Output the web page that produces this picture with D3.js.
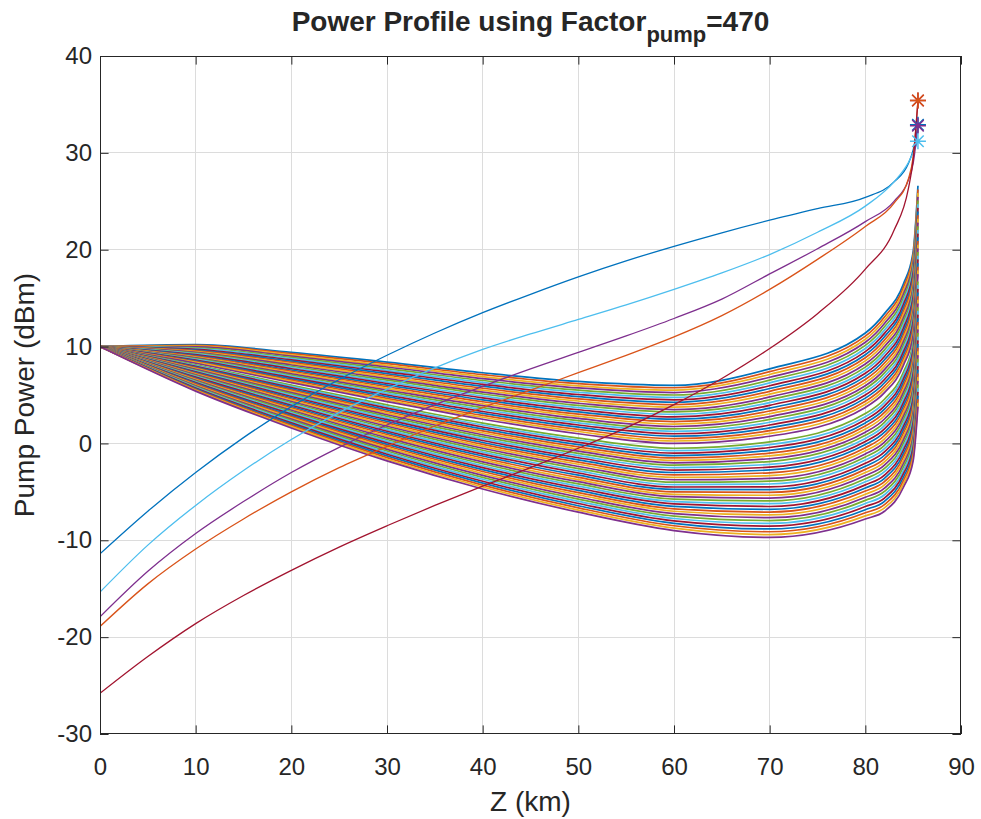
<!DOCTYPE html>
<html>
<head>
<meta charset="utf-8">
<script src="https://cdn.jsdelivr.net/npm/d3@7"></script>
<style>
  html, body { margin: 0; padding: 0; background: #ffffff; }
  svg { display: block; }
  text { font-family: "Liberation Sans", Arial, Helvetica, sans-serif; fill: #262626; }
</style>
</head>
<body>
<svg id="chart" width="981" height="819"></svg>
<script>
// ---- Axis ticks ----
const xTicks = [0, 10, 20, 30, 40, 50, 60, 70, 80, 90];
const yTicks = [-30, -20, -10, 0, 10, 20, 30, 40];

// ---- Channel bundle: every channel is launched at 10 dBm at z = 0 ----
const launchDbm = 10;
// distances (km) where the channel powers are tabulated (after z = 0)
const channelZ = [10, 20, 30, 40, 50, 60, 70, 80, 82, 84, 85, 85.5];
// channel powers (dBm) at each tabulated distance, one entry per channel
const pAt10 = [10.2, 10.12, 10.04, 9.96, 9.88, 9.8, 9.72, 9.64, 9.56, 9.48, 9.4, 9.32, 9.24, 9.16, 9.08, 9.0, 8.92, 8.84, 8.76, 8.68, 8.6, 8.52, 8.44, 8.36, 8.28, 8.12, 8.04, 7.96, 7.88, 7.8, 7.72, 7.64, 7.56, 7.48, 7.4, 7.32, 7.24, 7.16, 7.08, 7.0, 6.92, 6.84, 6.76, 6.68, 6.6, 6.52, 6.44, 6.36, 6.28, 6.2, 6.12, 6.04, 5.96, 5.88, 5.8, 5.72, 5.64, 5.56, 5.48, 5.4];
const pAt20 = [9.4, 9.27, 9.14, 9.01, 8.88, 8.75, 8.62, 8.49, 8.36, 8.23, 8.1, 7.97, 7.84, 7.71, 7.58, 7.45, 7.32, 7.19, 7.06, 6.93, 6.8, 6.67, 6.54, 6.41, 6.28, 6.02, 5.89, 5.76, 5.63, 5.5, 5.37, 5.24, 5.11, 4.98, 4.85, 4.72, 4.59, 4.46, 4.33, 4.2, 4.07, 3.94, 3.81, 3.68, 3.55, 3.42, 3.29, 3.16, 3.03, 2.9, 2.77, 2.64, 2.51, 2.38, 2.25, 2.12, 1.99, 1.86, 1.73, 1.6];
const pAt30 = [8.4, 8.23, 8.06, 7.89, 7.72, 7.55, 7.38, 7.21, 7.04, 6.87, 6.7, 6.53, 6.36, 6.19, 6.02, 5.85, 5.68, 5.51, 5.34, 5.17, 5.0, 4.83, 4.66, 4.49, 4.32, 3.98, 3.81, 3.64, 3.47, 3.3, 3.13, 2.96, 2.79, 2.62, 2.45, 2.28, 2.11, 1.94, 1.77, 1.6, 1.43, 1.26, 1.09, 0.92, 0.75, 0.58, 0.41, 0.24, 0.07, -0.1, -0.27, -0.44, -0.61, -0.78, -0.95, -1.12, -1.29, -1.46, -1.63, -1.8];
const pAt40 = [7.3, 7.1, 6.9, 6.7, 6.5, 6.3, 6.1, 5.9, 5.7, 5.5, 5.3, 5.1, 4.9, 4.7, 4.5, 4.3, 4.1, 3.9, 3.7, 3.5, 3.3, 3.1, 2.9, 2.7, 2.5, 2.1, 1.9, 1.7, 1.5, 1.3, 1.1, 0.9, 0.7, 0.5, 0.3, 0.1, -0.1, -0.3, -0.5, -0.7, -0.9, -1.1, -1.3, -1.5, -1.7, -1.9, -2.1, -2.3, -2.5, -2.7, -2.9, -3.1, -3.3, -3.5, -3.7, -3.9, -4.1, -4.3, -4.5, -4.7];
const pAt50 = [6.4, 6.18, 5.95, 5.73, 5.5, 5.28, 5.05, 4.83, 4.6, 4.38, 4.15, 3.93, 3.7, 3.48, 3.25, 3.03, 2.8, 2.58, 2.35, 2.13, 1.9, 1.68, 1.45, 1.23, 1.0, 0.55, 0.33, 0.1, -0.13, -0.35, -0.58, -0.8, -1.03, -1.25, -1.48, -1.7, -1.93, -2.15, -2.38, -2.6, -2.83, -3.05, -3.28, -3.5, -3.73, -3.95, -4.18, -4.4, -4.63, -4.85, -5.08, -5.3, -5.53, -5.75, -5.98, -6.2, -6.43, -6.65, -6.88, -7.1];
const pAt60 = [6.0, 5.75, 5.5, 5.25, 5.0, 4.75, 4.5, 4.25, 4.0, 3.75, 3.5, 3.25, 3.0, 2.75, 2.5, 2.25, 2.0, 1.75, 1.5, 1.25, 1.0, 0.75, 0.5, 0.25, 0.0, -0.5, -0.75, -1.0, -1.25, -1.5, -1.75, -2.0, -2.25, -2.5, -2.75, -3.0, -3.25, -3.5, -3.75, -4.0, -4.25, -4.5, -4.75, -5.0, -5.25, -5.5, -5.75, -6.0, -6.25, -6.5, -6.75, -7.0, -7.25, -7.5, -7.75, -8.0, -8.25, -8.5, -8.75, -9.0];
const pAt70 = [7.7, 7.41, 7.12, 6.83, 6.54, 6.25, 5.96, 5.67, 5.38, 5.09, 4.8, 4.51, 4.22, 3.93, 3.64, 3.35, 3.06, 2.77, 2.48, 2.19, 1.9, 1.61, 1.32, 1.03, 0.74, 0.16, -0.13, -0.42, -0.71, -1.0, -1.29, -1.58, -1.87, -2.16, -2.45, -2.74, -3.03, -3.32, -3.61, -3.9, -4.19, -4.48, -4.77, -5.06, -5.35, -5.64, -5.93, -6.22, -6.51, -6.8, -7.09, -7.38, -7.67, -7.96, -8.25, -8.54, -8.83, -9.12, -9.41, -9.7];
const pAt80 = [11.4, 11.08, 10.76, 10.44, 10.12, 9.8, 9.48, 9.16, 8.84, 8.52, 8.2, 7.88, 7.56, 7.24, 6.92, 6.6, 6.28, 5.96, 5.64, 5.32, 5.0, 4.68, 4.36, 4.04, 3.72, 3.08, 2.76, 2.44, 2.12, 1.8, 1.48, 1.16, 0.84, 0.52, 0.2, -0.12, -0.44, -0.76, -1.08, -1.4, -1.72, -2.04, -2.36, -2.68, -3.0, -3.32, -3.64, -3.96, -4.28, -4.6, -4.92, -5.24, -5.56, -5.88, -6.2, -6.52, -6.84, -7.16, -7.48, -7.8];
const pAt82 = [13.4, 13.06, 12.72, 12.38, 12.04, 11.7, 11.36, 11.02, 10.68, 10.34, 10.0, 9.66, 9.32, 8.98, 8.64, 8.3, 7.96, 7.62, 7.28, 6.94, 6.6, 6.26, 5.92, 5.58, 5.24, 4.56, 4.22, 3.88, 3.54, 3.2, 2.86, 2.52, 2.18, 1.84, 1.5, 1.16, 0.82, 0.48, 0.14, -0.2, -0.54, -0.88, -1.22, -1.56, -1.9, -2.24, -2.58, -2.92, -3.26, -3.6, -3.94, -4.28, -4.62, -4.96, -5.3, -5.64, -5.98, -6.32, -6.66, -7.0];
const pAt84 = [16.5, 16.15, 15.8, 15.45, 15.1, 14.75, 14.4, 14.05, 13.7, 13.35, 13.0, 12.65, 12.3, 11.95, 11.6, 11.25, 10.9, 10.55, 10.2, 9.85, 9.5, 9.15, 8.8, 8.45, 8.1, 7.4, 7.05, 6.7, 6.35, 6.0, 5.65, 5.3, 4.95, 4.6, 4.25, 3.9, 3.55, 3.2, 2.85, 2.5, 2.15, 1.8, 1.45, 1.1, 0.75, 0.4, 0.05, -0.3, -0.65, -1.0, -1.35, -1.7, -2.05, -2.4, -2.75, -3.1, -3.45, -3.8, -4.15, -4.5];
const pAt85 = [19.8, 19.44, 19.08, 18.72, 18.36, 18.0, 17.64, 17.28, 16.92, 16.56, 16.2, 15.84, 15.48, 15.12, 14.76, 14.4, 14.04, 13.68, 13.32, 12.96, 12.6, 12.24, 11.88, 11.52, 11.16, 10.44, 10.08, 9.72, 9.36, 9.0, 8.64, 8.28, 7.92, 7.56, 7.2, 6.84, 6.48, 6.12, 5.76, 5.4, 5.04, 4.68, 4.32, 3.96, 3.6, 3.24, 2.88, 2.52, 2.16, 1.8, 1.44, 1.08, 0.72, 0.36, 0.0, -0.36, -0.72, -1.08, -1.44, -1.8];
const pAt85_5 = [26.6, 26.22, 25.84, 25.46, 25.08, 24.7, 24.32, 23.94, 23.56, 23.18, 22.8, 22.42, 22.04, 21.66, 21.28, 20.9, 20.52, 20.14, 19.76, 19.38, 19.0, 18.62, 18.24, 17.86, 17.48, 16.72, 16.34, 15.96, 15.58, 15.2, 14.82, 14.44, 14.06, 13.68, 13.3, 12.92, 12.54, 12.16, 11.78, 11.4, 11.02, 10.64, 10.26, 9.88, 9.5, 9.12, 8.74, 8.36, 7.98, 7.6, 7.22, 6.84, 6.46, 6.08, 5.7, 5.32, 4.94, 4.56, 4.18, 3.8];
const channelColumns = [pAt10, pAt20, pAt30, pAt40, pAt50, pAt60, pAt70, pAt80, pAt82, pAt84, pAt85, pAt85_5];

// ---- Backward pumps (dBm), launched at the fibre end (marked with *) ----
const pumpZ = [0, 5, 10, 15, 20, 25, 30, 35, 40, 45, 50, 55, 60, 65, 70, 75, 80, 83, 84.5, 85, 85.5];
const pumpBlue      = [-11.4, -7.0, -3.0, 0.6, 3.8, 6.6, 9.1, 11.4, 13.5, 15.4, 17.2, 18.85, 20.35, 21.75, 23.05, 24.25, 25.4, 27.0, 28.9, 30.3, 32.9];
const pumpLightBlue = [-15.35, -10.5, -6.4, -2.8, 0.4, 3.2, 5.6, 7.8, 9.7, 11.3, 12.8, 14.3, 15.9, 17.6, 19.5, 21.8, 24.5, 27.0, 29.0, 30.0, 31.2];
const pumpPurple    = [-17.9, -13.2, -9.3, -6.0, -3.0, -0.4, 1.9, 4.0, 5.9, 7.7, 9.4, 11.1, 12.9, 14.9, 17.5, 20.1, 22.9, 25.0, 27.2, 28.9, 32.8];
const pumpOrange    = [-18.9, -14.5, -10.9, -7.8, -5.0, -2.5, -0.3, 1.8, 3.7, 5.5, 7.3, 9.1, 11.0, 13.2, 15.9, 19.0, 22.4, 24.8, 27.3, 29.6, 35.4];
const pumpDarkRed   = [-25.8, -22.0, -18.6, -15.7, -13.1, -10.7, -8.5, -6.4, -4.4, -2.5, -0.5, 1.6, 4.0, 6.7, 9.8, 13.4, 18.0, 22.0, 26.3, 29.3, 35.4];

// MATLAB default line colour order
const colorOrder = ["#0072BD", "#D95319", "#EDB120", "#7E2F8E", "#77AC30", "#4DBEEE", "#A2142F"];

const pumps = [
  { values: pumpBlue,      color: "#0072BD" },
  { values: pumpLightBlue, color: "#4DBEEE" },
  { values: pumpPurple,    color: "#7E2F8E" },
  { values: pumpOrange,    color: "#D95319" },
  { values: pumpDarkRed,   color: "#A2142F" }
];

// ---- Layout ----
const plot = { left: 100, right: 961, top: 56, bottom: 734 };
const axisColor = "#262626";
const gridColor = "#dcdcdc";

const svg = d3.select("#chart");
const x = d3.scaleLinear().domain([0, 90]).range([plot.left, plot.right]);
const y = d3.scaleLinear().domain([-30, 40]).range([plot.bottom, plot.top]);

// grid
const grid = svg.append("g").attr("class", "grid");
grid.selectAll("line.gx").data(xTicks.filter(t => t > 0 && t < 90)).join("line")
  .attr("x1", d => x(d)).attr("x2", d => x(d))
  .attr("y1", plot.top).attr("y2", plot.bottom)
  .attr("stroke", gridColor).attr("stroke-width", 1).attr("shape-rendering", "crispEdges");
grid.selectAll("line.gy").data(yTicks.filter(t => t > -30 && t < 40)).join("line")
  .attr("x1", plot.left).attr("x2", plot.right)
  .attr("y1", d => y(d)).attr("y2", d => y(d))
  .attr("stroke", gridColor).attr("stroke-width", 1).attr("shape-rendering", "crispEdges");

// clip to the axes box
svg.append("clipPath").attr("id", "plotClip")
  .append("rect")
  .attr("x", plot.left).attr("y", plot.top)
  .attr("width", plot.right - plot.left).attr("height", plot.bottom - plot.top);

const line = d3.line()
  .x(d => x(d[0]))
  .y(d => y(d[1]))
  .curve(d3.curveMonotoneX);

// channel profiles
const nChannels = pAt10.length;
const channels = d3.range(nChannels).map(i =>
  [[0, launchDbm]].concat(channelZ.map((z, k) => [z, channelColumns[k][i]]))
);

const marks = svg.append("g").attr("clip-path", "url(#plotClip)");
marks.append("g").attr("class", "channels")
  .selectAll("path").data(channels).join("path")
  .attr("d", line)
  .attr("fill", "none")
  .attr("stroke", (d, i) => colorOrder[i % colorOrder.length])
  .attr("stroke-width", 1.7);

// pump profiles
marks.append("g").attr("class", "pumps")
  .selectAll("path").data(pumps).join("path")
  .attr("d", p => line(pumpZ.map((z, k) => [z, p.values[k]])))
  .attr("fill", "none")
  .attr("stroke", p => p.color)
  .attr("stroke-width", 1.3);

// asterisk markers at the pump launch points
function asterisk(r) {
  const p = d3.path();
  const q = r * 0.72;
  p.moveTo(-r, 0); p.lineTo(r, 0);
  p.moveTo(0, -r); p.lineTo(0, r);
  p.moveTo(-q, -q); p.lineTo(q, q);
  p.moveTo(-q, q); p.lineTo(q, -q);
  return p.toString();
}
const starOrder = [0, 2, 1, 4, 3];
svg.append("g").attr("class", "stars")
  .selectAll("path").data(starOrder.map(i => pumps[i])).join("path")
  .attr("transform", p => `translate(${x(pumpZ[pumpZ.length - 1])},${y(p.values[p.values.length - 1])})`)
  .attr("d", asterisk(8))
  .attr("fill", "none")
  .attr("stroke", p => p.color)
  .attr("stroke-width", 1.5);

// ---- Axes (box with inward ticks) ----
const tickLen = 8.6;
const fmt = d => String(d);

const gBottom = svg.append("g").attr("transform", `translate(0,${plot.bottom})`)
  .call(d3.axisBottom(x).tickValues(xTicks).tickFormat(fmt).tickSizeInner(-tickLen).tickSizeOuter(0).tickPadding(24));
const gTop = svg.append("g").attr("transform", `translate(0,${plot.top})`)
  .call(d3.axisTop(x).tickValues(xTicks).tickFormat("").tickSizeInner(-tickLen).tickSizeOuter(0));
const gLeft = svg.append("g").attr("transform", `translate(${plot.left},0)`)
  .call(d3.axisLeft(y).tickValues(yTicks).tickFormat(fmt).tickSizeInner(-tickLen).tickSizeOuter(0).tickPadding(8));
const gRight = svg.append("g").attr("transform", `translate(${plot.right},0)`)
  .call(d3.axisRight(y).tickValues(yTicks).tickFormat("").tickSizeInner(-tickLen).tickSizeOuter(0));

[gBottom, gTop, gLeft, gRight].forEach(g => {
  g.select(".domain").remove();
  g.selectAll(".tick line").attr("stroke", axisColor).attr("stroke-width", 1);
  g.selectAll(".tick text")
    .attr("fill", axisColor)
    .style("font-family", '"Liberation Sans", Arial, sans-serif')
    .style("font-size", "24px");
});
gBottom.selectAll(".tick text").attr("dy", "0.71em");

// box outline
svg.append("rect")
  .attr("x", plot.left + 0.5).attr("y", plot.top + 0.5)
  .attr("width", plot.right - plot.left - 1).attr("height", plot.bottom - plot.top - 1)
  .attr("fill", "none").attr("stroke", axisColor).attr("stroke-width", 1);

// ---- Labels ----
svg.append("text")
  .attr("x", (plot.left + plot.right) / 2).attr("y", 811)
  .attr("text-anchor", "middle")
  .style("font-size", "28px")
  .text("Z (km)");

svg.append("text")
  .attr("transform", `translate(34,${(plot.top + plot.bottom) / 2}) rotate(-90)`)
  .attr("text-anchor", "middle")
  .style("font-size", "28px")
  .text("Pump Power (dBm)");

const title = svg.append("text")
  .attr("x", (plot.left + plot.right) / 2).attr("y", 31)
  .attr("text-anchor", "middle")
  .style("font-size", "28px").style("font-weight", "bold");
title.append("tspan").text("Power Profile using Factor");
title.append("tspan").attr("dy", 11).style("font-size", "22px").text("pump");
title.append("tspan").attr("dy", -11).text("=470");
</script>
</body>
</html>
